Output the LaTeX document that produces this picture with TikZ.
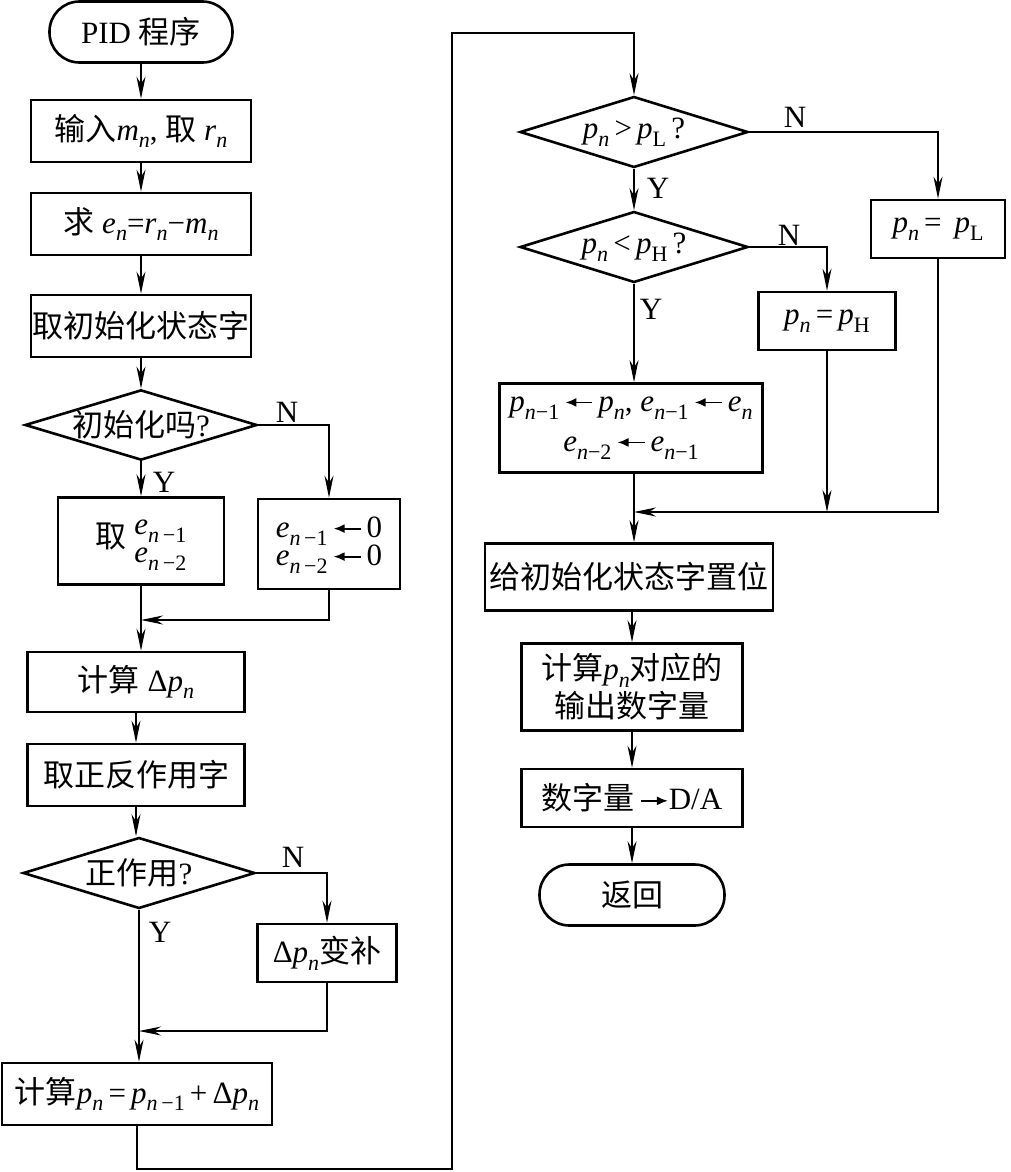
\documentclass[tikz,border=0pt]{standalone}
\usepackage{fontspec}
\setmainfont{Liberation Serif}
\newfontfamily\cjk{Noto Sans CJK SC}
\usetikzlibrary{arrows.meta,shapes.geometric}
\newcommand\zh[1]{{\cjk #1}}
\newcommand\vv[1]{\textit{#1}}
\newcommand\sbs[1]{\raisebox{-0.25em}{\fontsize{22}{22}\selectfont #1}}
\newcommand\la{\,\raisebox{4.5pt}{\tikz\draw[line width=1.8pt,{Latex[length=11pt,width=9pt]}-] (0pt,0pt) -- (27pt,0pt);}\,}
\newcommand\ra{\,\raisebox{4.5pt}{\tikz\draw[line width=1.8pt,-{Latex[length=11pt,width=9pt]}] (0pt,0pt) -- (27pt,0pt);}}
\begin{document}
\begin{tikzpicture}[x=1pt,y=-1pt,
  font=\fontsize{31}{38}\selectfont,
  box/.style={draw,line width=2.6pt,rectangle,inner sep=0pt,align=center},
  term/.style={draw,line width=2.6pt,rectangle,rounded corners=30pt,inner sep=0pt,align=center},
  dia/.style={draw,line width=2.6pt,diamond,inner sep=0pt,aspect=3.3},
  arr/.style={line width=1.4pt,-{Stealth[length=22pt,width=9pt,inset=7pt]}},
  lab/.style={inner sep=0pt}]
\useasboundingbox (0,0) rectangle (1011,1172);
% left column
\node[term,minimum width=183pt,minimum height=61pt] (start) at (141,32) {PID \zh{程序}};
\node[box,minimum width=220pt,minimum height=62pt] (b1) at (141,131) {\zh{输入}\vv{m}\sbs{\vv{n}}, \zh{取} \vv{r}\sbs{\vv{n}}};
\node[box,minimum width=220pt,minimum height=62pt] (b2) at (141,224) {\zh{求} \vv{e}\sbs{\vv{n}}=\vv{r}\sbs{\vv{n}}−\vv{m}\sbs{\vv{n}}};
\node[box,minimum width=220pt,minimum height=62pt] (b3) at (141,326) {\zh{取初始化状态字}};
\node[dia,minimum width=232pt,minimum height=70pt] (d1) at (141,425) {\zh{初始化吗}?};
\node[box,minimum width=166pt,minimum height=87pt] (by) at (141,541) {\zh{取} \begin{tabular}{@{}l@{}}\vv{e}\sbs{\vv{n}\,−1}\\[-10pt]\vv{e}\sbs{\vv{n}\,−2}\end{tabular}};
\node[box,minimum width=142pt,minimum height=90pt] (bn) at (329,544) {\begin{tabular}{@{}l@{}}\vv{e}\sbs{\vv{n}\,−1}\la0\\[-10pt]\vv{e}\sbs{\vv{n}\,−2}\la0\end{tabular}};
\coordinate (m1) at (141,620);
\node[box,minimum width=217pt,minimum height=60pt] (b4) at (136,682) {\zh{计算} Δ\vv{p}\sbs{\vv{n}}};
\node[box,minimum width=217pt,minimum height=62pt] (b5) at (136,775) {\zh{取正反作用字}};
\node[dia,minimum width=232pt,minimum height=71pt] (d2) at (139,873) {\zh{正作用}?};
\node[box,minimum width=139pt,minimum height=58pt] (bc) at (327,953) {Δ\vv{p}\sbs{\vv{n}}\zh{变补}};
\coordinate (m2) at (139,1031);
\node[box,minimum width=270pt,minimum height=62pt] (b6) at (137,1094) {\zh{计算}\vv{p}\sbs{\vv{n}}\,=\,\vv{p}\sbs{\vv{n}\,−1}\,+\,Δ\vv{p}\sbs{\vv{n}}};
% loop
\coordinate (l1) at (137,1169);
\coordinate (l2) at (452,1169);
\coordinate (l3) at (452,33);
\coordinate (l4) at (634,33);
% right column
\node[dia,minimum width=228pt,minimum height=71pt] (d3) at (634,132) {\vv{p}\sbs{\vv{n}}\,>\,\vv{p}\sbs{L}\,?};
\node[box,minimum width=134pt,minimum height=58pt] (pl) at (938,229) {\vv{p}\sbs{\vv{n}}\,=\, \vv{p}\sbs{L}};
\node[dia,minimum width=228pt,minimum height=71pt] (d4) at (634,247) {\vv{p}\sbs{\vv{n}}\,<\,\vv{p}\sbs{H}\,?};
\node[box,minimum width=137pt,minimum height=58pt] (ph) at (827,321) {\vv{p}\sbs{\vv{n}}\,=\,\vv{p}\sbs{H}};
\node[box,minimum width=263pt,minimum height=89pt] (upd) at (631,428) {\vv{p}\sbs{\vv{n}−1}\la\vv{p}\sbs{\vv{n}}, \vv{e}\sbs{\vv{n}−1}\la\vv{e}\sbs{\vv{n}}\\[2pt]\vv{e}\sbs{\vv{n}−2}\la\vv{e}\sbs{\vv{n}−1}};
\coordinate (m3) at (634,512);
\node[box,minimum width=288pt,minimum height=67pt] (b7) at (629,577) {\zh{给初始化状态字置位}};
\node[box,minimum width=221pt,minimum height=87pt] (b8) at (632,687) {\zh{计算}\vv{p}\sbs{\vv{n}}\zh{对应的}\\[0pt]\zh{输出数字量}};
\node[box,minimum width=221pt,minimum height=58pt] (b9) at (632,798) {\zh{数字量}\ra D/A};
\node[term,minimum width=185pt,minimum height=61pt] (ret) at (632,895) {\zh{返回}};
% connectors left
\draw[arr] (start) -- (b1);
\draw[arr] (b1) -- (b2);
\draw[arr] (b2) -- (b3);
\draw[arr] (b3) -- (d1);
\draw[arr] (d1.south) -- (by.north);
\draw[arr] (d1.east) -| (bn.north);
\draw[arr] (bn.south) |- (m1);
\draw[arr] (by.south) -- (by.south |- b4.north);
\draw[arr] (b4.south) -- (b4.south |- b5.north);
\draw[arr] (b5.south) -- (b5.south |- d2.north);
\draw[arr] (d2.east) -| (bc.north);
\draw[arr] (d2.south) -- (d2.south |- b6.north);
\draw[arr] (bc.south) |- (m2);
\draw[arr] (b6.south) -- (l1) -- (l2) -- (l3) -- (l4) -- (d3.north);
% connectors right
\draw[arr] (d3.east) -| (pl.north);
\draw[arr] (d3.south) -- (d4.north);
\draw[arr] (d4.east) -| (ph.north);
\draw[arr] (d4.south) -- (d4.south |- upd.north);
\draw[arr] (ph.south) -- (ph.south |- m3);
\draw[arr] (pl.south) |- (m3);
\draw[arr] (upd.south -| m3) -- (m3 |- b7.north);
\draw[arr] (b7.south -| b8) -- (b8.north);
\draw[arr] (b8) -- (b9);
\draw[arr] (b9) -- (ret);
% labels
\node[lab] (n1) at (287,412) {N};
\node[lab] (y1) at (164,482) {Y};
\node[lab] (n2) at (293,857) {N};
\node[lab] (y2) at (160,932) {Y};
\node[lab] (n3) at (795,117) {N};
\node[lab] (y3) at (658,188) {Y};
\node[lab] (n4) at (789,235) {N};
\node[lab] (y4) at (651,309) {Y};
\end{tikzpicture}
\end{document}
